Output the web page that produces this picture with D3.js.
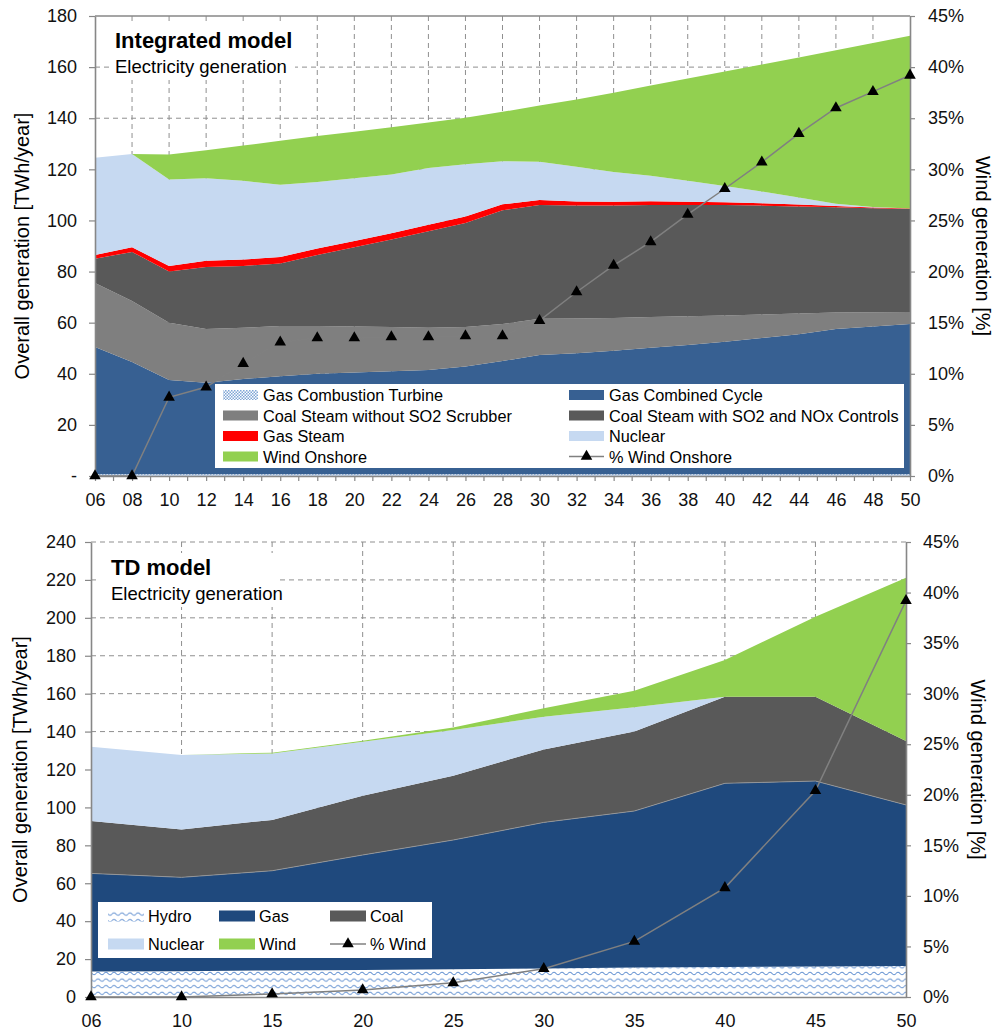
<!DOCTYPE html>
<html>
<head>
<meta charset="utf-8">
<script src="https://cdn.jsdelivr.net/npm/d3@7"></script>
<style>
  body { margin: 0; background: #fff; }
  svg { display: block; font-family: "Liberation Sans", Arial, Helvetica, sans-serif; }
</style>
</head>
<body>
<svg id="chart" width="993" height="1036"></svg>
<script>
// ---------- Integrated model: electricity generation (TWh/year), 2-year steps ----------
const intYears = ["06","08","10","12","14","16","18","20","22","24","26","28","30","32","34","36","38","40","42","44","46","48","50"];
const intGasCT = [0.7,0.7,0.7,0.7,0.7,0.7,0.7,0.7,0.7,0.7,0.7,0.7,0.7,0.7,0.7,0.7,0.7,0.7,0.7,0.7,0.7,0.7,0.7];
const intGasCC = [49.8,43.9,36.9,35.8,37.3,38.3,39.3,39.8,40.3,40.8,42.1,44.3,46.6,47.3,48.3,49.5,50.6,51.8,53.3,54.8,56.8,57.8,58.8];
const intCoalNoScrubber = [25,23.9,22.4,21,20,19.7,18.7,18,17.3,16.5,15.5,14.5,14.2,13.6,12.8,12,11.2,10.3,9.2,8.1,6.5,5.6,4.7];
const intCoalControls = [9.5,19.2,20,24.3,24.2,24.5,27.8,31,34.2,37.8,40.7,44.5,44.5,44.2,44,43.8,43.5,43.2,42.6,41.9,41.2,40.7,40.3];
const intGasSteam = [1.5,1.8,2.2,2.4,2.5,2.5,2.5,2.5,2.5,2.5,2.5,2.3,2,1.6,1.5,1.5,1.3,1.1,0.9,0.7,0.5,0.3,0.2];
const intNuclear = [38,36.5,33.8,32.3,30.8,28.3,26,24.5,23,22.2,20.5,16.9,15,13.6,11.7,10,8.2,6.4,4.6,2.8,0.8,0.2,0];
const intWind = [0,0,9.8,11,13.8,17.2,18,18.2,18.5,17.8,18.2,19.3,22,26.3,31,35.3,40,44.8,49.7,54.8,60.1,64.1,67.6];
const intWindShare = [0,0,7.7,8.7,11,13.1,13.5,13.5,13.6,13.6,13.7,13.7,15.2,18,20.6,22.9,25.6,28.1,30.7,33.5,36,37.6,39.2];
const intYTicks = [0,20,40,60,80,100,120,140,160,180];

// ---------- TD model: electricity generation (TWh/year) ----------
const tdYears = ["06","10","15","20","25","30","35","40","45","50"];
const tdHydro = [13.4,13.6,14,14.3,14.7,15,15.5,15.8,16.1,16.3];
const tdGas = [51.8,49.5,52.6,60.6,68.1,77.1,82.6,96.9,97.8,85.0];
const tdCoal = [27.6,25.3,26.8,31.3,33.9,38.5,41.9,45.7,44.5,33.7];
const tdNuclear = [39.2,39.2,35.1,28.5,24.1,17.2,12.8,0,0,0];
const tdWind = [0,0,0.4,0.5,1.4,4.5,8.7,19.3,42.2,86.2];
const tdWindShare = [0,0,0.3,0.7,1.4,2.8,5.5,10.8,20.4,39.2];
const tdYTicks = [0,20,40,60,80,100,120,140,160,180,200,220,240];

const shareTicks = [0,5,10,15,20,25,30,35,40,45];

const svg = d3.select("#chart");
const FONT = '"Liberation Sans", Arial, Helvetica, sans-serif';
const defs = svg.append("defs");

// fine dotted fill for gas combustion turbine
const dots = defs.append("pattern").attr("id", "dots")
  .attr("width", 3).attr("height", 3).attr("patternUnits", "userSpaceOnUse");
dots.append("rect").attr("width", 3).attr("height", 3).attr("fill", "#ffffff");
dots.append("rect").attr("width", 1.5).attr("height", 1.5).attr("fill", "#7fa6d6");
dots.append("rect").attr("x", 1.5).attr("y", 1.5).attr("width", 1.5).attr("height", 1.5).attr("fill", "#7fa6d6");

// wavy fill for hydro
const waves = defs.append("pattern").attr("id", "waves")
  .attr("width", 8).attr("height", 6.6).attr("patternUnits", "userSpaceOnUse");
waves.append("rect").attr("width", 8).attr("height", 6.6).attr("fill", "#ffffff");
waves.append("path").attr("d", "M0,3.3 Q2,0.9 4,3.3 T8,3.3")
  .attr("fill", "none").attr("stroke", "#5f8fd0").attr("stroke-width", 1);

function drawPanel(o) {
  const g = svg.append("g");
  const x = d3.scalePoint().domain(o.years).range([o.left, o.right]);
  const y = d3.scaleLinear().domain([0, o.yMax]).range([o.bottom, o.top]);
  const yShare = d3.scaleLinear().domain([0, 45]).range([o.bottom, o.top]);

  // dashed grid
  const grid = g.append("g").attr("stroke", "#8f8f8f").attr("stroke-width", 1)
    .attr("stroke-dasharray", "5,4").attr("fill", "none");
  grid.selectAll("line.h")
    .data(o.yTicks.filter(v => v > 0 && (v < o.yMax || o.dashedTop)))
    .join("line").attr("class", "h")
    .attr("x1", o.left).attr("x2", o.right)
    .attr("y1", d => y(d)).attr("y2", d => y(d));
  grid.selectAll("line.v")
    .data(o.years.slice(1, -1))
    .join("line").attr("class", "v")
    .attr("x1", d => x(d)).attr("x2", d => x(d))
    .attr("y1", o.top).attr("y2", o.bottom);

  // stacked areas
  const rows = o.years.map((yr, i) => {
    const r = { year: yr };
    o.series.forEach(s => { r[s.key] = s.values[i]; });
    return r;
  });
  const layers = d3.stack().keys(o.series.map(s => s.key))(rows);
  const area = d3.area()
    .x(d => x(d.data.year)).y0(d => y(d[0])).y1(d => y(d[1]));
  g.append("g").selectAll("path").data(layers).join("path")
    .attr("fill", (d, i) => o.series[i].fill)
    .attr("d", area);

  if (o.edgeKey) {
    const layer = layers.find(l => l.key === o.edgeKey);
    g.append("path").datum(layer)
      .attr("fill", "none").attr("stroke", "#9c9c9c").attr("stroke-width", 0.8)
      .attr("d", d3.line().x(d => x(d.data.year)).y(d => y(d[1])));
  }

  // title block
  g.append("rect").attr("x", o.titleBox[0]).attr("y", o.titleBox[1])
    .attr("width", o.titleBox[2]).attr("height", o.titleBox[3]).attr("fill", "#fff");
  g.append("text").attr("x", o.titleX).attr("y", o.titleY)
    .attr("font-size", 22).attr("font-weight", "bold").attr("fill", "#000")
    .text(o.title);
  g.append("text").attr("x", o.titleX).attr("y", o.subY)
    .attr("font-size", 18.5).attr("fill", "#000")
    .text("Electricity generation");

  // axes
  const axisColor = "#878787";
  const yAxis = g.append("g").attr("transform", `translate(${o.left},0)`)
    .call(d3.axisLeft(y).tickValues(o.yTicks).tickSize(6).tickSizeOuter(0)
      .tickPadding(o.yPad).tickFormat(o.yFormat));
  const rAxis = g.append("g").attr("transform", `translate(${o.right},0)`)
    .call(d3.axisRight(yShare).tickValues(shareTicks).tickSize(5).tickSizeOuter(0)
      .tickPadding(o.rPad).tickFormat(d => d + "%"));
  const xAxis = g.append("g").attr("transform", `translate(0,${o.bottom})`)
    .call(d3.axisBottom(x).tickSize(o.xTick).tickSizeOuter(0).tickPadding(o.xPad));
  [yAxis, rAxis, xAxis].forEach(a => {
    a.attr("font-family", FONT).attr("font-size", 18);
    a.selectAll("line").attr("stroke", axisColor).attr("stroke-width", 1.2);
    a.select(".domain").attr("stroke", axisColor).attr("stroke-width", 1.6);
    a.selectAll("text").attr("fill", "#111");
  });
  if (o.minorTicks) {
    const mids = o.years.slice(0, -1).map((d, i) => (x(d) + x(o.years[i + 1])) / 2);
    xAxis.selectAll("line.minor").data(mids).join("line").attr("class", "minor")
      .attr("x1", d => d).attr("x2", d => d).attr("y1", 0).attr("y2", o.xTick)
      .attr("stroke", axisColor).attr("stroke-width", 1.2);
  }
  if (o.solidTop) {
    g.append("line").attr("x1", o.left).attr("x2", o.right)
      .attr("y1", o.top).attr("y2", o.top)
      .attr("stroke", axisColor).attr("stroke-width", 1.4);
  }

  // axis titles
  const cy = (o.top + o.bottom) / 2;
  g.append("text").attr("transform", `translate(${o.leftTitleX},${cy}) rotate(-90)`)
    .attr("text-anchor", "middle").attr("dominant-baseline", "central")
    .attr("font-size", 20).attr("fill", "#000")
    .text("Overall generation [TWh/year]");
  g.append("text").attr("transform", `translate(${o.rightTitleX},${cy}) rotate(90)`)
    .attr("text-anchor", "middle").attr("dominant-baseline", "central")
    .attr("font-size", 20).attr("fill", "#000")
    .text("Wind generation [%]");

  // wind share line with triangle markers
  g.append("path").datum(o.share)
    .attr("fill", "none").attr("stroke", "#808080").attr("stroke-width", 1.5)
    .attr("d", d3.line().x((d, i) => x(o.years[i])).y(d => yShare(d)));
  const tri = d3.symbol(d3.symbolTriangle, 58);
  g.append("g").selectAll("path").data(o.share).join("path")
    .attr("transform", (d, i) => `translate(${x(o.years[i])},${yShare(d)})`)
    .attr("d", tri).attr("fill", "#000");

  // legend
  const L = o.legend;
  const lg = g.append("g");
  lg.append("rect").attr("x", L.x).attr("y", L.y).attr("width", L.w).attr("height", L.h)
    .attr("fill", "#fff");
  L.items.forEach((it, k) => {
    const col = k % L.cols, row = Math.floor(k / L.cols);
    const sx = L.colX[col], cyR = L.rowY[row];
    if (it.line) {
      lg.append("line").attr("x1", sx).attr("x2", sx + L.sw).attr("y1", cyR).attr("y2", cyR)
        .attr("stroke", "#808080").attr("stroke-width", 1.5);
      lg.append("path").attr("transform", `translate(${sx + L.sw / 2},${cyR})`)
        .attr("d", tri).attr("fill", "#000");
    } else {
      lg.append("rect").attr("x", sx).attr("y", cyR - L.sh / 2)
        .attr("width", L.sw).attr("height", L.sh).attr("fill", it.fill);
    }
    lg.append("text").attr("x", sx + L.sw + L.gap).attr("y", cyR)
      .attr("dominant-baseline", "central").attr("font-size", 16.3).attr("fill", "#000")
      .text(it.label);
  });
}

// ---------- Integrated model panel ----------
const intSeries = [
  { key: "Gas Combustion Turbine", values: intGasCT, fill: "url(#dots)" },
  { key: "Gas Combined Cycle", values: intGasCC, fill: "#376092" },
  { key: "Coal Steam without SO2 Scrubber", values: intCoalNoScrubber, fill: "#7f7f7f" },
  { key: "Coal Steam with SO2 and NOx Controls", values: intCoalControls, fill: "#595959" },
  { key: "Gas Steam", values: intGasSteam, fill: "#ff0000" },
  { key: "Nuclear", values: intNuclear, fill: "#c6d9f1" },
  { key: "Wind Onshore", values: intWind, fill: "#92d050" }
];
drawPanel({
  years: intYears, series: intSeries, share: intWindShare,
  left: 95, right: 910, top: 16, bottom: 476, yMax: 180, yTicks: intYTicks,
  yFormat: d => d === 0 ? "-   " : d, yPad: 12, rPad: 13, xTick: 5, xPad: 12,
  minorTicks: true, solidTop: true, dashedTop: false,
  leftTitleX: 22, rightTitleX: 983,
  title: "Integrated model", titleX: 115, titleY: 48, subY: 73,
  titleBox: [110, 24, 185, 56],
  legend: {
    x: 215, y: 384, w: 689, h: 84, cols: 2, colX: [223, 569], rowY: [395, 415.5, 436, 456.5],
    sw: 35, sh: 10, gap: 5,
    items: [
      { label: "Gas Combustion Turbine", fill: "url(#dots)" },
      { label: "Gas Combined Cycle", fill: "#376092" },
      { label: "Coal Steam without SO2 Scrubber", fill: "#7f7f7f" },
      { label: "Coal Steam with SO2 and NOx Controls", fill: "#595959" },
      { label: "Gas Steam", fill: "#ff0000" },
      { label: "Nuclear", fill: "#c6d9f1" },
      { label: "Wind Onshore", fill: "#92d050" },
      { label: "% Wind Onshore", line: true }
    ]
  }
});

// ---------- TD model panel ----------
const tdSeries = [
  { key: "Hydro", values: tdHydro, fill: "url(#waves)" },
  { key: "Gas", values: tdGas, fill: "#1f497d" },
  { key: "Coal", values: tdCoal, fill: "#595959" },
  { key: "Nuclear", values: tdNuclear, fill: "#c6d9f1" },
  { key: "Wind", values: tdWind, fill: "#92d050" }
];
drawPanel({
  years: tdYears, series: tdSeries, share: tdWindShare, edgeKey: "Gas",
  left: 91, right: 906, top: 542, bottom: 997, yMax: 240, yTicks: tdYTicks,
  yFormat: d => d, yPad: 9, rPad: 12, xTick: 0, xPad: 17,
  minorTicks: false, solidTop: false, dashedTop: true,
  leftTitleX: 20, rightTitleX: 978,
  title: "TD model", titleX: 111, titleY: 575, subY: 600,
  titleBox: [100, 553, 177, 54],
  legend: {
    x: 98, y: 902, w: 334, h: 56, cols: 3, colX: [108, 219, 330], rowY: [916, 944],
    sw: 36, sh: 11, gap: 4,
    items: [
      { label: "Hydro", fill: "url(#waves)" },
      { label: "Gas", fill: "#1f497d" },
      { label: "Coal", fill: "#595959" },
      { label: "Nuclear", fill: "#c6d9f1" },
      { label: "Wind", fill: "#92d050" },
      { label: "% Wind", line: true }
    ]
  }
});
</script>
</body>
</html>
